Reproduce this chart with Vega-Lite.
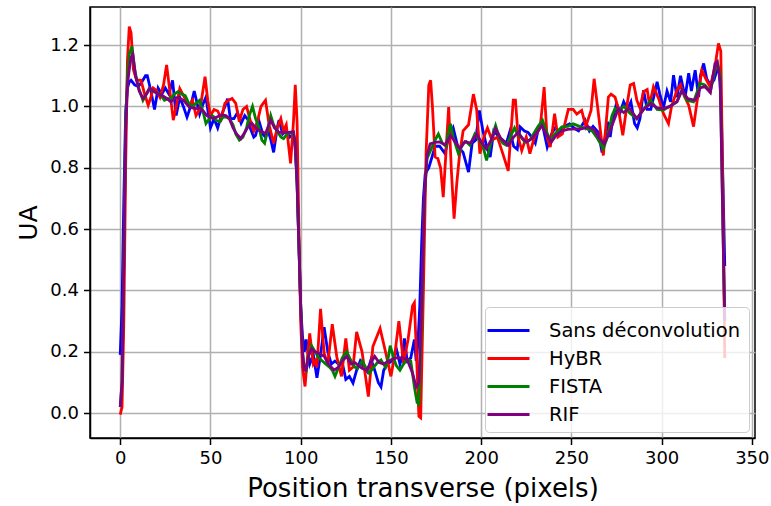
{
  "$schema": "https://vega.github.io/schema/vega-lite/v6.json",
  "width": 665,
  "height": 431,
  "autosize": {"type": "none"},
  "padding": {"left": 90, "top": 7, "right": 16, "bottom": 68},
  "background": "white",
  "config": {
    "font": "DejaVu Sans",
    "view": {"stroke": "black", "strokeWidth": 1.5},
    "axis": {
      "labelFont": "DejaVu Sans", "labelFontSize": 18, "labelColor": "black",
      "titleFont": "DejaVu Sans", "titleFontSize": 25, "titleFontWeight": "normal", "titleColor": "black",
      "gridColor": "#b0b0b0", "gridWidth": 1.5,
      "tickColor": "black", "tickWidth": 1.5, "tickSize": 6.5,
      "domainColor": "black", "domainWidth": 1.5, "labelPadding": 5
    },
    "legend": {
      "orient": "bottom-right", "offset": 6,
      "fillColor": "rgba(255,255,255,0.8)", "strokeColor": "#cccccc", "cornerRadius": 4,
      "padding": 8, "labelFont": "DejaVu Sans", "labelFontSize": 19.5, "labelColor": "black", "labelLimit": 0,
      "symbolType": "M-1.5,0H1.5", "symbolSize": 784, "symbolStrokeWidth": 3, "labelOffset": 25, "rowPadding": 3
    }
  },
  "datasets": {
    "blue": [
      {"x":0,"y":0.19},{"x":1,"y":0.35},{"x":2,"y":0.7},{"x":3,"y":0.98},{"x":4,"y":1.06},{"x":5,"y":1.08},{"x":6,"y":1.085},{"x":8,"y":1.07},{"x":10,"y":1.065},{"x":12,"y":1.08},{"x":14,"y":1.1},{"x":15,"y":1.1},{"x":17,"y":1.05},{"x":19,"y":0.99},{"x":21,"y":1.06},{"x":23,"y":1.04},{"x":25,"y":1.06},{"x":27,"y":1.04},{"x":29,"y":1.085},{"x":31,"y":0.97},{"x":33,"y":1.03},{"x":35,"y":1.0},{"x":37,"y":0.965},{"x":39,"y":1.0},{"x":41,"y":1.05},{"x":43,"y":1.0},{"x":44,"y":0.975},{"x":46,"y":1.01},{"x":47.5,"y":1.03},{"x":49,"y":0.97},{"x":50,"y":0.93},{"x":52,"y":0.96},{"x":54,"y":0.93},{"x":56,"y":0.97},{"x":58,"y":1.0},{"x":59.5,"y":1.025},{"x":61,"y":0.96},{"x":63,"y":0.96},{"x":65,"y":0.98},{"x":67,"y":0.945},{"x":69,"y":0.97},{"x":71,"y":0.955},{"x":72,"y":0.93},{"x":74,"y":0.9},{"x":75,"y":0.905},{"x":77,"y":0.95},{"x":79,"y":0.91},{"x":80.5,"y":0.9},{"x":82,"y":0.92},{"x":83.5,"y":0.89},{"x":85,"y":0.85},{"x":87,"y":0.93},{"x":88,"y":0.955},{"x":90,"y":0.91},{"x":92,"y":0.92},{"x":94,"y":0.9},{"x":96,"y":0.91},{"x":97,"y":0.86},{"x":98,"y":0.75},{"x":99,"y":0.55},{"x":100,"y":0.35},{"x":101,"y":0.25},{"x":102,"y":0.2},{"x":103,"y":0.24},{"x":105,"y":0.16},{"x":107,"y":0.19},{"x":109,"y":0.115},{"x":111,"y":0.19},{"x":113,"y":0.28},{"x":115,"y":0.2},{"x":117,"y":0.16},{"x":119,"y":0.17},{"x":121,"y":0.16},{"x":123,"y":0.165},{"x":125,"y":0.11},{"x":127,"y":0.12},{"x":129,"y":0.098},{"x":131,"y":0.14},{"x":133,"y":0.17},{"x":135,"y":0.15},{"x":137,"y":0.135},{"x":139,"y":0.175},{"x":141,"y":0.14},{"x":143,"y":0.1},{"x":144.5,"y":0.086},{"x":146,"y":0.14},{"x":148,"y":0.16},{"x":151,"y":0.173},{"x":153,"y":0.21},{"x":155,"y":0.16},{"x":156.5,"y":0.19},{"x":157.5,"y":0.244},{"x":159,"y":0.17},{"x":161,"y":0.18},{"x":163,"y":0.24},{"x":164,"y":0.17},{"x":165,"y":0.23},{"x":166,"y":0.35},{"x":167,"y":0.55},{"x":168,"y":0.7},{"x":169,"y":0.78},{"x":171,"y":0.8},{"x":172.5,"y":0.83},{"x":174.5,"y":0.87},{"x":177,"y":0.87},{"x":180,"y":0.846},{"x":182,"y":0.9},{"x":184.5,"y":0.93},{"x":187,"y":0.87},{"x":190,"y":0.85},{"x":193,"y":0.786},{"x":195,"y":0.88},{"x":197,"y":0.89},{"x":199,"y":0.987},{"x":201,"y":0.92},{"x":203,"y":0.87},{"x":205,"y":0.835},{"x":207,"y":0.92},{"x":210,"y":0.9},{"x":214,"y":0.88},{"x":216,"y":0.92},{"x":218,"y":0.87},{"x":220,"y":0.86},{"x":221.6,"y":0.933},{"x":224,"y":0.92},{"x":226,"y":0.915},{"x":228,"y":0.9},{"x":230,"y":0.88},{"x":232,"y":0.935},{"x":234,"y":0.94},{"x":236.6,"y":0.867},{"x":239,"y":0.91},{"x":241,"y":0.93},{"x":243,"y":0.92},{"x":246,"y":0.935},{"x":249,"y":0.943},{"x":252,"y":0.927},{"x":254,"y":0.92},{"x":257.6,"y":0.955},{"x":260,"y":0.92},{"x":262,"y":0.935},{"x":265,"y":0.915},{"x":267,"y":0.85},{"x":269,"y":0.91},{"x":270,"y":0.95},{"x":271.5,"y":0.9},{"x":273,"y":0.96},{"x":275,"y":1.01},{"x":277,"y":0.98},{"x":279,"y":1.015},{"x":281,"y":0.99},{"x":283,"y":1.015},{"x":285,"y":0.944},{"x":286.5,"y":0.93},{"x":288,"y":0.96},{"x":290,"y":1.053},{"x":292,"y":0.99},{"x":294,"y":0.99},{"x":296,"y":1.04},{"x":297.5,"y":1.08},{"x":299,"y":1.04},{"x":301,"y":0.995},{"x":303,"y":1.05},{"x":305,"y":1.015},{"x":306.6,"y":1.102},{"x":308.5,"y":1.03},{"x":310.5,"y":1.1},{"x":313,"y":1.03},{"x":315,"y":1.108},{"x":316.5,"y":1.05},{"x":318.6,"y":1.118},{"x":320.5,"y":1.03},{"x":321.5,"y":1.1},{"x":323.3,"y":1.14},{"x":325,"y":1.09},{"x":327,"y":1.07},{"x":329,"y":1.086},{"x":330.7,"y":1.118},{"x":332,"y":1.11},{"x":333,"y":1.0},{"x":334,"y":0.75},{"x":335,"y":0.48}
    ],
    "red": [
      {"x":0,"y":-0.005},{"x":1,"y":0.02},{"x":2,"y":0.3},{"x":3,"y":0.8},{"x":4,"y":1.15},{"x":5,"y":1.26},{"x":6,"y":1.24},{"x":7.3,"y":1.12},{"x":9,"y":1.086},{"x":11.5,"y":1.085},{"x":13.7,"y":1.037},{"x":15.5,"y":1.004},{"x":17,"y":1.03},{"x":18.3,"y":1.06},{"x":20,"y":1.053},{"x":22,"y":1.03},{"x":24,"y":1.07},{"x":25.7,"y":1.135},{"x":27.5,"y":1.05},{"x":29.4,"y":0.955},{"x":31,"y":1.0},{"x":33,"y":1.058},{"x":35.5,"y":1.03},{"x":38,"y":1.0},{"x":40,"y":1.02},{"x":42,"y":0.97},{"x":44,"y":0.99},{"x":45,"y":1.02},{"x":47,"y":1.097},{"x":48.5,"y":1.02},{"x":50,"y":0.97},{"x":52,"y":0.99},{"x":54,"y":0.985},{"x":56,"y":0.96},{"x":58,"y":1.01},{"x":60,"y":1.02},{"x":62,"y":1.026},{"x":64,"y":1.01},{"x":66,"y":0.95},{"x":68,"y":0.99},{"x":70,"y":1.0},{"x":72,"y":0.955},{"x":74,"y":0.92},{"x":76,"y":0.95},{"x":78,"y":1.0},{"x":80.5,"y":1.02},{"x":82.5,"y":0.94},{"x":85,"y":0.88},{"x":87,"y":0.93},{"x":89,"y":0.96},{"x":90.5,"y":0.92},{"x":92,"y":0.94},{"x":94.4,"y":0.814},{"x":96,"y":0.95},{"x":97,"y":1.07},{"x":98,"y":0.95},{"x":99,"y":0.6},{"x":100,"y":0.3},{"x":101,"y":0.15},{"x":102.4,"y":0.087},{"x":104,"y":0.2},{"x":105,"y":0.26},{"x":107,"y":0.16},{"x":108,"y":0.17},{"x":109,"y":0.15},{"x":111,"y":0.34},{"x":113,"y":0.195},{"x":115,"y":0.16},{"x":117.5,"y":0.29},{"x":120,"y":0.184},{"x":122.6,"y":0.12},{"x":125,"y":0.244},{"x":127,"y":0.14},{"x":129,"y":0.15},{"x":131,"y":0.265},{"x":134,"y":0.2},{"x":137.5,"y":0.054},{"x":140,"y":0.217},{"x":144,"y":0.276},{"x":147,"y":0.2},{"x":150,"y":0.12},{"x":152,"y":0.184},{"x":154.4,"y":0.3},{"x":157,"y":0.163},{"x":159.5,"y":0.24},{"x":162,"y":0.35},{"x":163,"y":0.36},{"x":164,"y":0.217},{"x":165.5,"y":-0.01},{"x":166.5,"y":-0.015},{"x":168,"y":0.4},{"x":169.5,"y":0.85},{"x":171,"y":1.07},{"x":172,"y":1.085},{"x":173,"y":1.0},{"x":174.5,"y":0.835},{"x":176,"y":0.83},{"x":177.5,"y":0.8},{"x":179,"y":0.704},{"x":180.5,"y":0.85},{"x":182,"y":0.998},{"x":183.5,"y":0.79},{"x":185,"y":0.634},{"x":186.5,"y":0.75},{"x":188,"y":0.84},{"x":190,"y":0.92},{"x":193,"y":0.94},{"x":195.7,"y":1.04},{"x":197.5,"y":0.99},{"x":199.3,"y":0.846},{"x":201.5,"y":0.9},{"x":203.5,"y":0.93},{"x":206,"y":0.89},{"x":209,"y":0.9},{"x":212,"y":0.846},{"x":215,"y":0.79},{"x":217.8,"y":1.02},{"x":219,"y":1.02},{"x":220.5,"y":0.9},{"x":222.5,"y":0.856},{"x":225,"y":0.9},{"x":227,"y":0.846},{"x":229.5,"y":0.9},{"x":232.7,"y":0.93},{"x":234.9,"y":1.063},{"x":236.5,"y":0.9},{"x":238.3,"y":0.867},{"x":240.7,"y":0.976},{"x":242.5,"y":0.9},{"x":245,"y":0.91},{"x":248.3,"y":0.99},{"x":251,"y":0.99},{"x":253,"y":0.975},{"x":255.7,"y":0.987},{"x":258,"y":0.935},{"x":260.9,"y":0.987},{"x":262.6,"y":1.09},{"x":264.5,"y":1.0},{"x":267.7,"y":0.84},{"x":270.5,"y":1.03},{"x":272,"y":1.04},{"x":274.2,"y":1.03},{"x":276,"y":0.993},{"x":278.5,"y":0.906},{"x":280.7,"y":1.0},{"x":282.6,"y":1.07},{"x":284.5,"y":1.075},{"x":286.3,"y":1.02},{"x":288,"y":0.995},{"x":290,"y":1.048},{"x":292,"y":1.055},{"x":293.3,"y":1.004},{"x":295.5,"y":1.064},{"x":298.3,"y":1.026},{"x":301,"y":0.977},{"x":303.8,"y":0.944},{"x":305.5,"y":1.0},{"x":308.5,"y":1.053},{"x":310.5,"y":1.07},{"x":312.5,"y":1.035},{"x":315,"y":1.004},{"x":317.7,"y":0.934},{"x":319.5,"y":1.01},{"x":322.3,"y":1.118},{"x":324.5,"y":1.09},{"x":326.9,"y":1.064},{"x":329.6,"y":1.13},{"x":331.5,"y":1.205},{"x":332.8,"y":1.18},{"x":334,"y":0.7},{"x":335,"y":0.18}
    ],
    "green": [
      {"x":0,"y":0.02},{"x":1,"y":0.1},{"x":2,"y":0.5},{"x":3,"y":0.95},{"x":4,"y":1.1},{"x":5,"y":1.17},{"x":6.5,"y":1.195},{"x":8,"y":1.12},{"x":10,"y":1.064},{"x":12.6,"y":1.02},{"x":14.5,"y":1.04},{"x":16.3,"y":1.06},{"x":18,"y":1.05},{"x":20,"y":1.045},{"x":22,"y":1.04},{"x":24.5,"y":1.02},{"x":26.5,"y":1.025},{"x":28,"y":1.025},{"x":30,"y":1.04},{"x":32,"y":1.048},{"x":34,"y":1.04},{"x":36,"y":1.035},{"x":38,"y":1.01},{"x":40,"y":1.0},{"x":42,"y":1.01},{"x":44,"y":1.02},{"x":46,"y":0.98},{"x":47.5,"y":0.944},{"x":49.5,"y":0.96},{"x":51,"y":0.97},{"x":53,"y":0.955},{"x":55,"y":0.95},{"x":57,"y":0.965},{"x":58.5,"y":0.966},{"x":60.5,"y":0.96},{"x":62.5,"y":0.94},{"x":64,"y":0.91},{"x":66,"y":0.89},{"x":68,"y":0.9},{"x":70,"y":0.93},{"x":71.5,"y":0.97},{"x":73.3,"y":1.0},{"x":75,"y":0.96},{"x":77,"y":0.93},{"x":78.5,"y":0.89},{"x":80,"y":0.88},{"x":82,"y":0.93},{"x":83.4,"y":0.97},{"x":85,"y":0.94},{"x":87,"y":0.92},{"x":89,"y":0.9},{"x":90.5,"y":0.895},{"x":92.5,"y":0.91},{"x":94.5,"y":0.915},{"x":96,"y":0.91},{"x":97,"y":0.88},{"x":98,"y":0.75},{"x":99,"y":0.55},{"x":100,"y":0.35},{"x":101,"y":0.2},{"x":102,"y":0.15},{"x":103,"y":0.14},{"x":104.5,"y":0.19},{"x":106,"y":0.22},{"x":108,"y":0.2},{"x":110,"y":0.18},{"x":112,"y":0.17},{"x":114,"y":0.16},{"x":116,"y":0.15},{"x":117.5,"y":0.14},{"x":119,"y":0.12},{"x":121,"y":0.15},{"x":123,"y":0.18},{"x":125.5,"y":0.2},{"x":128,"y":0.17},{"x":130,"y":0.15},{"x":131.5,"y":0.146},{"x":134,"y":0.17},{"x":136,"y":0.15},{"x":138,"y":0.13},{"x":140.5,"y":0.15},{"x":142.5,"y":0.165},{"x":144.5,"y":0.173},{"x":147,"y":0.15},{"x":148.5,"y":0.18},{"x":149.6,"y":0.22},{"x":151.5,"y":0.18},{"x":153,"y":0.155},{"x":155,"y":0.14},{"x":157,"y":0.16},{"x":159,"y":0.175},{"x":161,"y":0.17},{"x":163,"y":0.086},{"x":164.5,"y":0.035},{"x":165.5,"y":0.03},{"x":167,"y":0.3},{"x":168.5,"y":0.7},{"x":170,"y":0.83},{"x":171.5,"y":0.85},{"x":173,"y":0.87},{"x":174.5,"y":0.89},{"x":176.3,"y":0.91},{"x":178.5,"y":0.88},{"x":180.5,"y":0.87},{"x":182,"y":0.92},{"x":183,"y":0.943},{"x":184.5,"y":0.9},{"x":187.4,"y":0.846},{"x":190,"y":0.88},{"x":191.8,"y":0.885},{"x":193.8,"y":0.873},{"x":196.5,"y":0.91},{"x":199,"y":0.89},{"x":201,"y":0.87},{"x":203,"y":0.824},{"x":205,"y":0.87},{"x":206.5,"y":0.91},{"x":208,"y":0.938},{"x":210,"y":0.9},{"x":212,"y":0.88},{"x":214,"y":0.873},{"x":216.5,"y":0.905},{"x":218.5,"y":0.93},{"x":220,"y":0.91},{"x":222,"y":0.9},{"x":224.3,"y":0.884},{"x":227,"y":0.89},{"x":229,"y":0.91},{"x":231.3,"y":0.933},{"x":234,"y":0.955},{"x":236,"y":0.92},{"x":238.3,"y":0.889},{"x":241,"y":0.91},{"x":244.7,"y":0.933},{"x":248,"y":0.935},{"x":251,"y":0.943},{"x":254.5,"y":0.935},{"x":258.5,"y":0.927},{"x":261.5,"y":0.92},{"x":264,"y":0.9},{"x":267.7,"y":0.862},{"x":270,"y":0.9},{"x":272.5,"y":0.97},{"x":274.2,"y":0.993},{"x":276.5,"y":0.985},{"x":279,"y":1.0},{"x":282.6,"y":0.977},{"x":286.3,"y":0.96},{"x":290,"y":0.99},{"x":294,"y":1.02},{"x":297.5,"y":0.99},{"x":301,"y":0.988},{"x":304.5,"y":1.0},{"x":308.5,"y":1.015},{"x":311.3,"y":1.053},{"x":314,"y":1.02},{"x":317.7,"y":1.015},{"x":321.4,"y":1.075},{"x":324,"y":1.07},{"x":327,"y":1.048},{"x":329.6,"y":1.118},{"x":331,"y":1.14},{"x":332.5,"y":1.1},{"x":334,"y":0.6},{"x":335,"y":0.3}
    ],
    "purple": [
      {"x":0,"y":0.02},{"x":1,"y":0.1},{"x":2,"y":0.5},{"x":3,"y":0.92},{"x":4,"y":1.07},{"x":5,"y":1.12},{"x":6,"y":1.16},{"x":7,"y":1.17},{"x":8.5,"y":1.1},{"x":10.5,"y":1.05},{"x":12.6,"y":1.026},{"x":14.5,"y":1.04},{"x":16.3,"y":1.06},{"x":18.5,"y":1.05},{"x":21,"y":1.04},{"x":23.5,"y":1.035},{"x":26,"y":1.025},{"x":28,"y":1.015},{"x":30,"y":1.025},{"x":32,"y":1.03},{"x":35,"y":1.02},{"x":38,"y":1.0},{"x":40,"y":0.995},{"x":42,"y":0.993},{"x":44,"y":0.995},{"x":46,"y":0.985},{"x":48,"y":0.97},{"x":49.5,"y":0.966},{"x":51.5,"y":0.96},{"x":53.5,"y":0.965},{"x":55,"y":0.97},{"x":56.7,"y":0.972},{"x":58.5,"y":0.97},{"x":60.5,"y":0.96},{"x":62.5,"y":0.93},{"x":64.5,"y":0.91},{"x":66.8,"y":0.895},{"x":69,"y":0.915},{"x":71,"y":0.935},{"x":73,"y":0.945},{"x":75,"y":0.93},{"x":77.5,"y":0.92},{"x":80.6,"y":0.912},{"x":82,"y":0.935},{"x":83.4,"y":0.955},{"x":85.5,"y":0.93},{"x":88,"y":0.915},{"x":90.5,"y":0.915},{"x":93.5,"y":0.915},{"x":96,"y":0.918},{"x":97,"y":0.88},{"x":98,"y":0.75},{"x":99,"y":0.55},{"x":100,"y":0.35},{"x":101,"y":0.2},{"x":102,"y":0.14},{"x":103,"y":0.14},{"x":104.5,"y":0.19},{"x":106,"y":0.21},{"x":108,"y":0.2},{"x":110,"y":0.195},{"x":113,"y":0.185},{"x":115.5,"y":0.16},{"x":118.5,"y":0.14},{"x":121,"y":0.15},{"x":123,"y":0.17},{"x":125.5,"y":0.185},{"x":128,"y":0.16},{"x":130,"y":0.165},{"x":132,"y":0.155},{"x":134,"y":0.146},{"x":136.5,"y":0.14},{"x":138.5,"y":0.16},{"x":141,"y":0.185},{"x":143.5,"y":0.165},{"x":146,"y":0.16},{"x":148,"y":0.168},{"x":150.5,"y":0.175},{"x":153,"y":0.18},{"x":156.5,"y":0.18},{"x":159,"y":0.175},{"x":162,"y":0.13},{"x":164,"y":0.086},{"x":165.5,"y":0.1},{"x":167,"y":0.35},{"x":168.5,"y":0.7},{"x":170,"y":0.84},{"x":171.7,"y":0.878},{"x":174.5,"y":0.883},{"x":177,"y":0.884},{"x":180,"y":0.875},{"x":183,"y":0.905},{"x":185.5,"y":0.885},{"x":188.3,"y":0.862},{"x":191,"y":0.885},{"x":194,"y":0.88},{"x":197.5,"y":0.91},{"x":200,"y":0.885},{"x":202.8,"y":0.862},{"x":205.5,"y":0.89},{"x":208,"y":0.927},{"x":211,"y":0.895},{"x":215,"y":0.873},{"x":218,"y":0.9},{"x":220.5,"y":0.915},{"x":223,"y":0.895},{"x":225,"y":0.884},{"x":228,"y":0.895},{"x":231,"y":0.915},{"x":233.6,"y":0.938},{"x":236,"y":0.91},{"x":238.9,"y":0.884},{"x":241.5,"y":0.905},{"x":244.7,"y":0.92},{"x":248,"y":0.925},{"x":252,"y":0.927},{"x":255.5,"y":0.927},{"x":259.4,"y":0.933},{"x":262.5,"y":0.925},{"x":265,"y":0.9},{"x":268.2,"y":0.878},{"x":271,"y":0.915},{"x":274.3,"y":0.965},{"x":276,"y":0.993},{"x":279,"y":0.98},{"x":282,"y":0.995},{"x":286.3,"y":0.96},{"x":290,"y":0.99},{"x":294,"y":1.01},{"x":297.5,"y":0.995},{"x":301,"y":0.993},{"x":304.5,"y":1.0},{"x":308.5,"y":1.015},{"x":311.3,"y":1.053},{"x":314.5,"y":1.025},{"x":318.6,"y":1.02},{"x":321.4,"y":1.06},{"x":324,"y":1.065},{"x":327,"y":1.045},{"x":329.6,"y":1.14},{"x":330.8,"y":1.146},{"x":332.5,"y":1.08},{"x":334,"y":0.6},{"x":335,"y":0.3}
    ]
  },
  "encoding": {
    "x": {"field": "x", "type": "quantitative",
      "scale": {"domain": [-16.75, 351.75], "nice": false, "zero": false},
      "axis": {"values": [0,50,100,150,200,250,300,350], "title": "Position transverse (pixels)", "titlePadding": 8, "titleFontSize": 26}},
    "y": {"field": "y", "type": "quantitative",
      "scale": {"domain": [-0.081, 1.324], "nice": false, "zero": false},
      "axis": {"values": [0,0.2,0.4,0.6,0.8,1.0,1.2], "format": ".1f", "title": "UA", "titlePadding": 8}}
  },
  "layer": [
    {"data": {"name": "blue"}, "mark": {"type": "line", "strokeWidth": 2.8, "clip": true},
     "encoding": {"color": {"datum": "Sans déconvolution", "type": "nominal",
       "scale": {"domain": ["Sans déconvolution", "HyBR", "FISTA", "RIF"], "range": ["#0000ff", "#ff0000", "#008000", "#800080"]},
       "legend": {"title": null}}}},
    {"data": {"name": "red"}, "mark": {"type": "line", "strokeWidth": 2.8, "clip": true},
     "encoding": {"color": {"datum": "HyBR", "type": "nominal"}}},
    {"data": {"name": "green"}, "mark": {"type": "line", "strokeWidth": 2.8, "clip": true},
     "encoding": {"color": {"datum": "FISTA", "type": "nominal"}}},
    {"data": {"name": "purple"}, "mark": {"type": "line", "strokeWidth": 2.8, "clip": true},
     "encoding": {"color": {"datum": "RIF", "type": "nominal"}}}
  ]
}
